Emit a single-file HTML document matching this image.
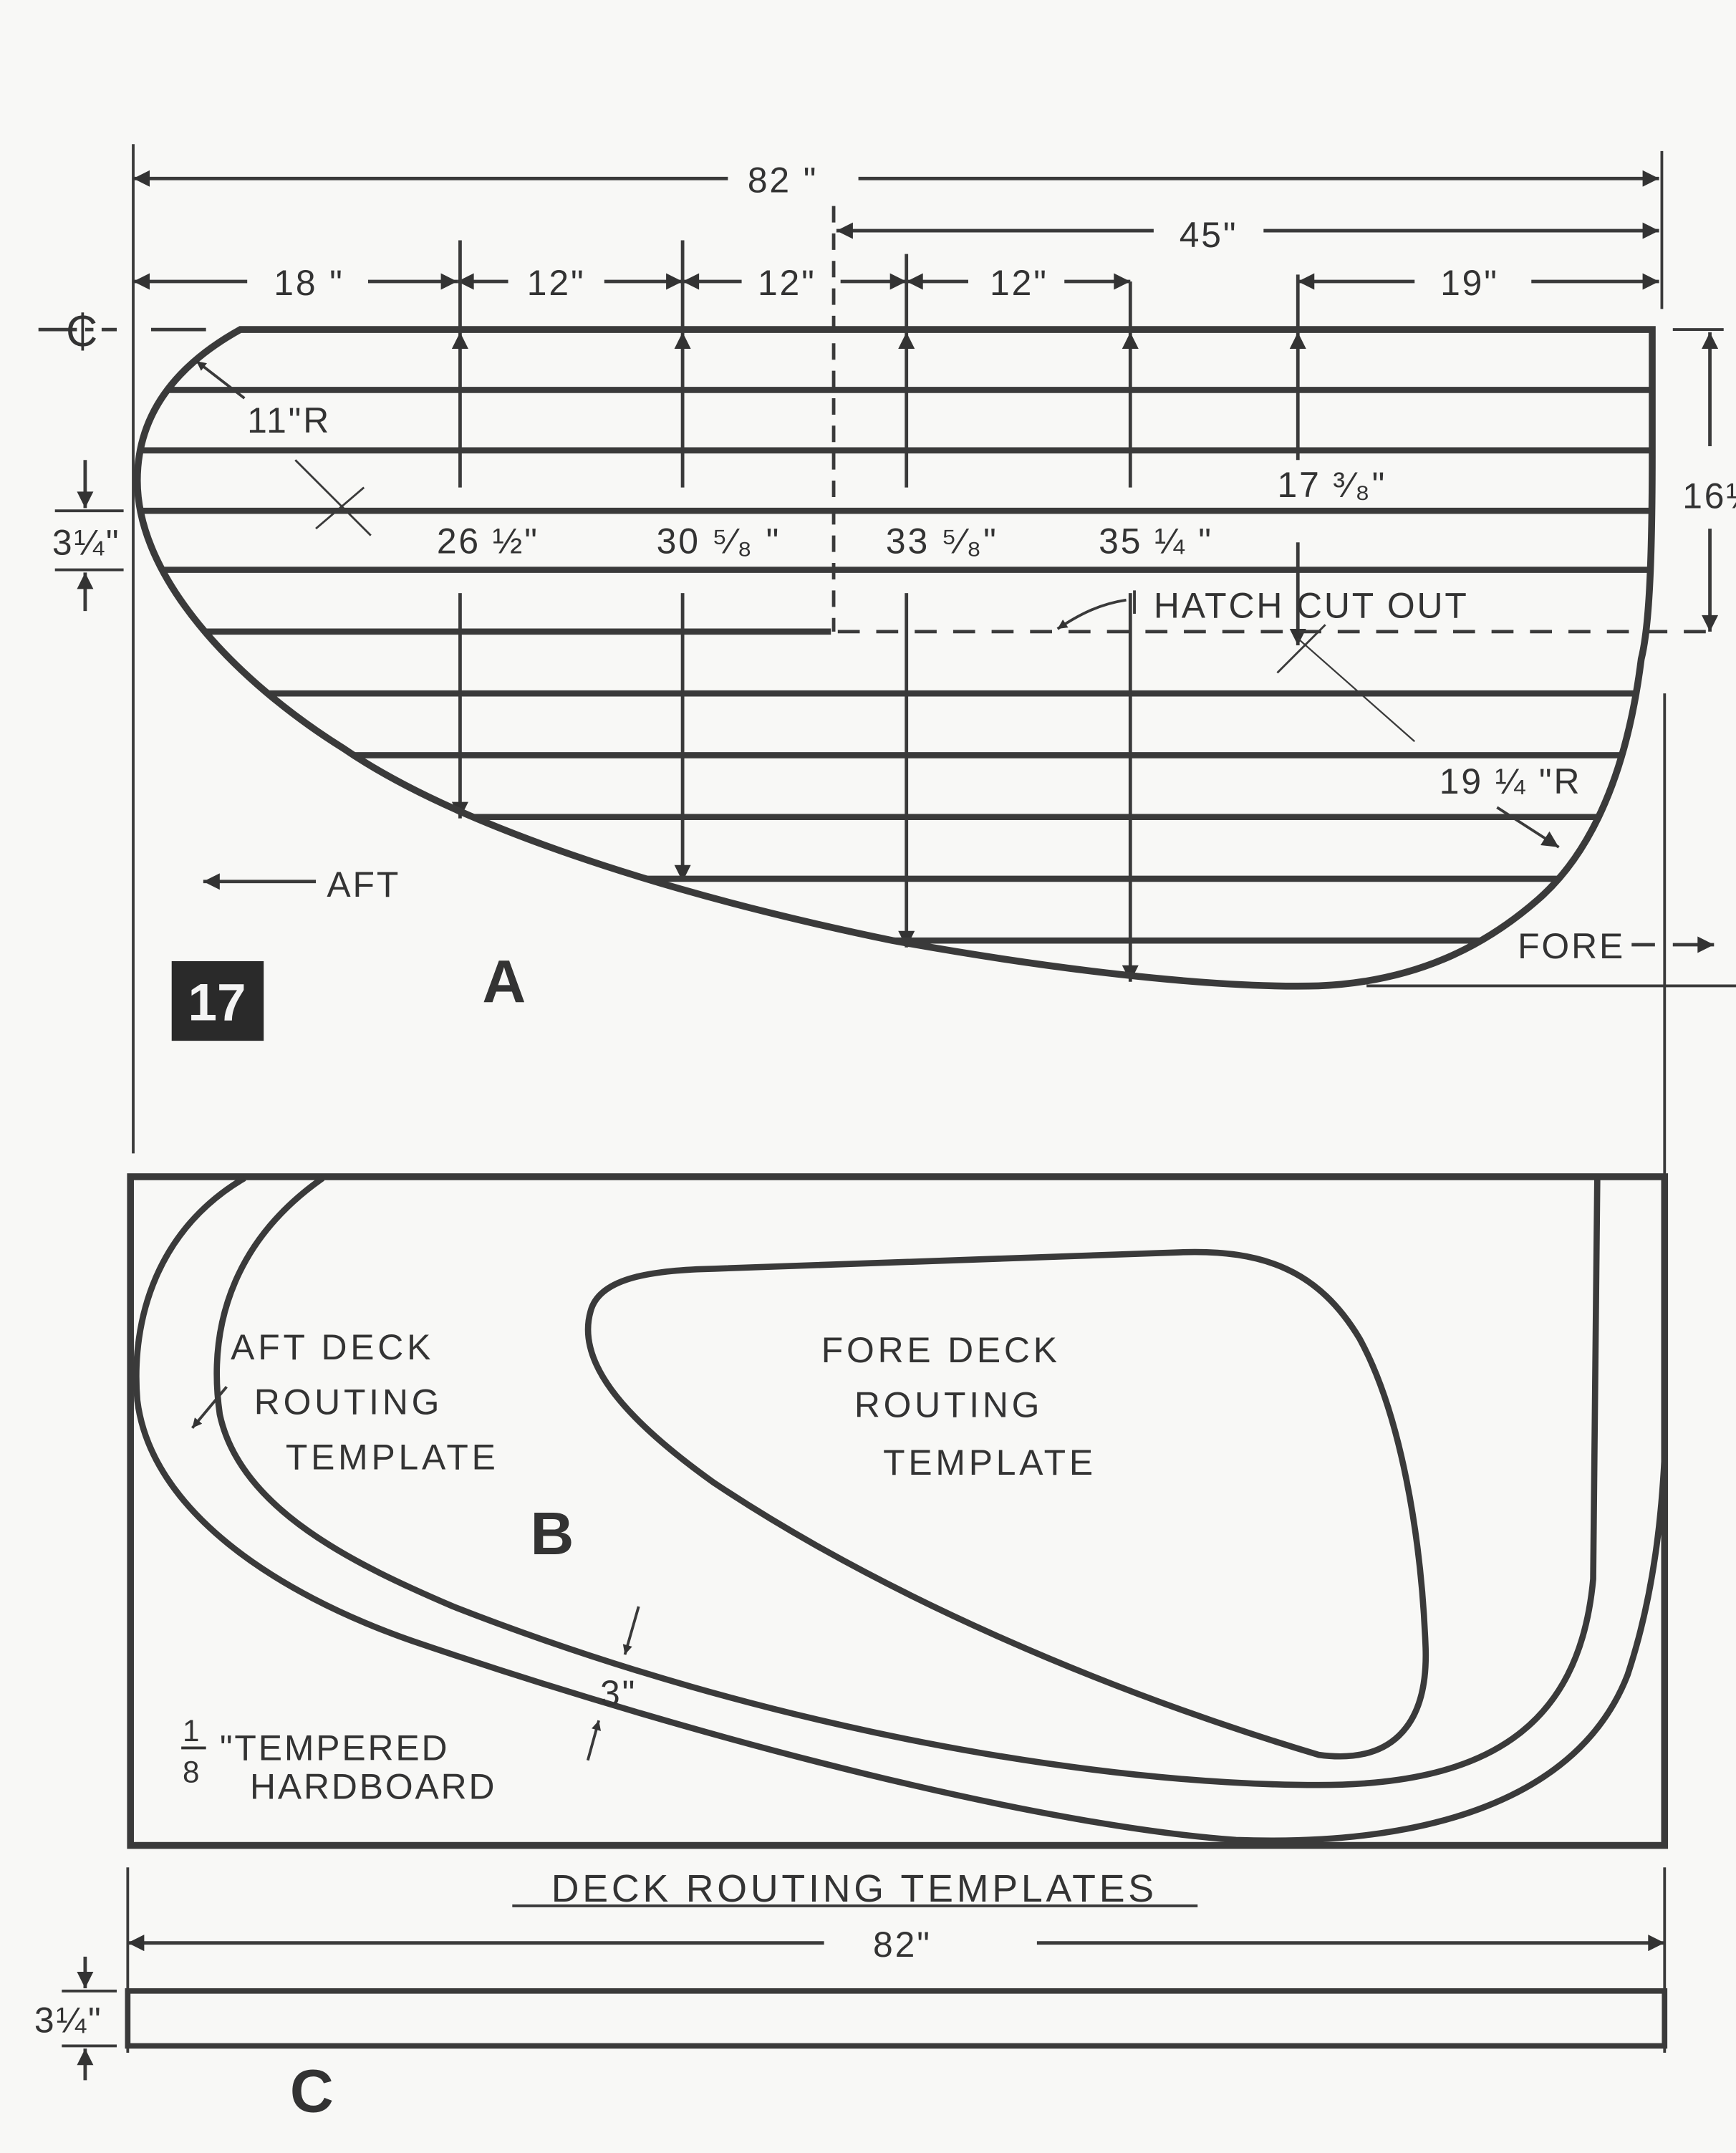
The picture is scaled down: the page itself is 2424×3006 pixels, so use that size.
<!DOCTYPE html>
<html><head><meta charset="utf-8"><style>
html,body{margin:0;padding:0;background:#f8f8f6;}
svg{display:block;}
text{font-family:"Liberation Sans",sans-serif;fill:#333;}
</style></head><body>
<svg width="2424" height="3006" viewBox="0 0 1264 1568" preserveAspectRatio="none" xmlns="http://www.w3.org/2000/svg">
<defs>
<clipPath id="hull"><path d="M175,240 L1203,240 L1203,330 C1203,420 1200,460 1195,480 C1185,560 1160,620 1120,655 C1080,690 1030,715 960,718 C880,720 760,705 650,685 C480,650 330,600 250,545 C170,495 100,420 100,350 C100,300 130,265 175,240 Z"/></clipPath>
<marker id="ar" viewBox="0 0 10 10" refX="10" refY="5" markerWidth="9" markerHeight="7" orient="auto-start-reverse" markerUnits="userSpaceOnUse"><path d="M0,0 L10,5 L0,10 Z" fill="#333"/></marker>
<marker id="arL" viewBox="0 0 10 10" refX="10" refY="5" markerWidth="22" markerHeight="12" orient="auto-start-reverse" markerUnits="userSpaceOnUse"><path d="M0,0 L10,5 L0,10 Z" fill="#333"/></marker>
</defs>
<g stroke="#3a3a3a" fill="none">
<line x1="97" y1="105" x2="97" y2="840" stroke-width="2"/>
<line x1="1210" y1="110" x2="1210" y2="225" stroke-width="2"/>
<line x1="1212" y1="505" x2="1212" y2="860" stroke-width="2"/>
<line x1="607" y1="150" x2="607" y2="460" stroke-width="2.5" stroke-dasharray="12,8"/>
<line x1="97" y1="130" x2="530" y2="130" stroke-width="2.5" marker-start="url(#arL)"/>
<line x1="625" y1="130" x2="1208" y2="130" stroke-width="2.5" marker-end="url(#arL)"/>
<line x1="609" y1="168" x2="840" y2="168" stroke-width="2.5" marker-start="url(#arL)"/>
<line x1="920" y1="168" x2="1208" y2="168" stroke-width="2.5" marker-end="url(#arL)"/>
<line x1="97" y1="205" x2="180" y2="205" stroke-width="2.5" marker-start="url(#arL)"/>
<line x1="268" y1="205" x2="333" y2="205" stroke-width="2.5" marker-end="url(#arL)"/>
<line x1="333" y1="205" x2="370" y2="205" stroke-width="2.5" marker-start="url(#arL)"/>
<line x1="440" y1="205" x2="497" y2="205" stroke-width="2.5" marker-end="url(#arL)"/>
<line x1="497" y1="205" x2="540" y2="205" stroke-width="2.5" marker-start="url(#arL)"/>
<line x1="612" y1="205" x2="660" y2="205" stroke-width="2.5" marker-end="url(#arL)"/>
<line x1="660" y1="205" x2="705" y2="205" stroke-width="2.5" marker-start="url(#arL)"/>
<line x1="775" y1="205" x2="823" y2="205" stroke-width="2.5" marker-end="url(#arL)"/>
<line x1="945" y1="205" x2="1030" y2="205" stroke-width="2.5" marker-start="url(#arL)"/>
<line x1="1115" y1="205" x2="1208" y2="205" stroke-width="2.5" marker-end="url(#arL)"/>
<g stroke-width="2.5">
<line x1="335" y1="175" x2="335" y2="240" /><line x1="335" y1="355" x2="335" y2="242" marker-end="url(#arL)"/><line x1="335" y1="432" x2="335" y2="596" marker-end="url(#arL)"/>
<line x1="497" y1="175" x2="497" y2="240" /><line x1="497" y1="355" x2="497" y2="242" marker-end="url(#arL)"/><line x1="497" y1="432" x2="497" y2="642" marker-end="url(#arL)"/>
<line x1="660" y1="185" x2="660" y2="240" /><line x1="660" y1="355" x2="660" y2="242" marker-end="url(#arL)"/><line x1="660" y1="432" x2="660" y2="690" marker-end="url(#arL)"/>
<line x1="823" y1="205" x2="823" y2="240" /><line x1="823" y1="355" x2="823" y2="242" marker-end="url(#arL)"/><line x1="823" y1="432" x2="823" y2="715" marker-end="url(#arL)"/>
<line x1="945" y1="200" x2="945" y2="240" /><line x1="945" y1="335" x2="945" y2="242" marker-end="url(#arL)"/><line x1="945" y1="395" x2="945" y2="470" marker-end="url(#arL)"/>
</g>
<line x1="28" y1="240" x2="85" y2="240" stroke-width="2.5" stroke-dasharray="28,6,6,6"/>
<line x1="110" y1="240" x2="150" y2="240" stroke-width="2.5"/>
<line x1="1218" y1="240" x2="1255" y2="240" stroke-width="2"/>
<line x1="1245" y1="325" x2="1245" y2="242" stroke-width="2.5" marker-end="url(#arL)"/>
<line x1="1245" y1="385" x2="1245" y2="460" stroke-width="2.5" marker-end="url(#arL)"/>
<line x1="40" y1="372" x2="90" y2="372" stroke-width="2"/>
<line x1="40" y1="415" x2="90" y2="415" stroke-width="2"/>
<line x1="62" y1="335" x2="62" y2="370" stroke-width="2.5" marker-end="url(#arL)"/>
<line x1="62" y1="445" x2="62" y2="417" stroke-width="2.5" marker-end="url(#arL)"/>
<g clip-path="url(#hull)" stroke-width="4.5">
<line x1="90" y1="284" x2="1210" y2="284"/><line x1="90" y1="328" x2="1210" y2="328"/>
<line x1="90" y1="372" x2="1210" y2="372"/><line x1="90" y1="415" x2="1210" y2="415"/>
<line x1="90" y1="460" x2="605" y2="460"/>
<line x1="90" y1="505" x2="1210" y2="505"/><line x1="90" y1="550" x2="1210" y2="550"/>
<line x1="90" y1="595" x2="1210" y2="595"/><line x1="90" y1="640" x2="1210" y2="640"/>
<line x1="90" y1="685" x2="1210" y2="685"/>
</g>
<line x1="610" y1="460" x2="1250" y2="460" stroke-width="2.5" stroke-dasharray="16,12"/>
<path d="M175,240 L1203,240 L1203,330 C1203,420 1200,460 1195,480 C1185,560 1160,620 1120,655 C1080,690 1030,715 960,718 C880,720 760,705 650,685 C480,650 330,600 250,545 C170,495 100,420 100,350 C100,300 130,265 175,240 Z" stroke-width="5"/>
<line x1="995" y1="718" x2="1264" y2="718" stroke-width="2"/>
<line x1="215" y1="335" x2="270" y2="390" stroke-width="1.5"/><line x1="230" y1="385" x2="265" y2="355" stroke-width="1.5"/>
<line x1="178" y1="290" x2="143" y2="263" stroke-width="2" marker-end="url(#ar)"/>
<line x1="930" y1="490" x2="965" y2="455" stroke-width="1.5"/><line x1="945" y1="465" x2="1030" y2="540" stroke-width="1.2"/>
<line x1="1090" y1="588" x2="1135" y2="617" stroke-width="2" marker-end="url(#arL)"/>
<path d="M820,437 C800,440 785,448 770,458" stroke-width="2" marker-end="url(#ar)"/>
<line x1="826" y1="430" x2="826" y2="447" stroke-width="2"/>
<line x1="230" y1="642" x2="148" y2="642" stroke-width="2.5" marker-end="url(#arL)"/>
<line x1="1188" y1="688" x2="1205" y2="688" stroke-width="2.5"/>
<line x1="1218" y1="688" x2="1248" y2="688" stroke-width="2.5" marker-end="url(#arL)"/>
<rect x="95" y="857" width="1117" height="487" stroke-width="5"/>
<path d="M178,858 C115,895 95,960 100,1020 C110,1100 200,1160 300,1195 C520,1270 760,1330 900,1340 C1040,1345 1150,1310 1185,1220 C1205,1160 1210,1100 1212,1060" stroke-width="4.5"/>
<path d="M235,858 C175,900 150,960 160,1030 C175,1100 260,1140 330,1170 C560,1260 800,1300 960,1300 C1080,1300 1150,1260 1160,1150 L1163,858" stroke-width="4.5"/>
<path d="M520,924 L860,912 C920,910 960,925 990,975 C1020,1030 1035,1120 1038,1200 C1040,1260 1010,1285 960,1278 C800,1230 640,1160 520,1080 C450,1030 420,990 430,955 C436,932 470,925 520,924 Z" stroke-width="4.5"/>
<line x1="165" y1="1010" x2="140" y2="1040" stroke-width="2" marker-end="url(#ar)"/>
<line x1="465" y1="1170" x2="455" y2="1205" stroke-width="2" marker-end="url(#ar)"/>
<line x1="428" y1="1282" x2="436" y2="1253" stroke-width="2" marker-end="url(#ar)"/>
<line x1="93" y1="1360" x2="93" y2="1495" stroke-width="2"/>
<line x1="1212" y1="1360" x2="1212" y2="1495" stroke-width="2"/>
<line x1="93" y1="1415" x2="600" y2="1415" stroke-width="2.5" marker-start="url(#arL)"/>
<line x1="755" y1="1415" x2="1212" y2="1415" stroke-width="2.5" marker-end="url(#arL)"/>
<line x1="373" y1="1388" x2="872" y2="1388" stroke-width="2"/>
<rect x="93" y="1450" width="1119" height="40" stroke-width="4"/>
<line x1="45" y1="1450" x2="85" y2="1450" stroke-width="2"/>
<line x1="45" y1="1490" x2="85" y2="1490" stroke-width="2"/>
<line x1="62" y1="1425" x2="62" y2="1448" stroke-width="2.5" marker-end="url(#arL)"/>
<line x1="62" y1="1515" x2="62" y2="1492" stroke-width="2.5" marker-end="url(#arL)"/>
</g>
<g font-size="26" letter-spacing="1.5">
<text x="570" y="140" text-anchor="middle">82 "</text>
<text x="880" y="180" text-anchor="middle">45"</text>
<text x="225" y="215" text-anchor="middle">18 "</text>
<text x="405" y="215" text-anchor="middle">12"</text>
<text x="573" y="215" text-anchor="middle">12"</text>
<text x="742" y="215" text-anchor="middle">12"</text>
<text x="1070" y="215" text-anchor="middle">19"</text>
<text x="48" y="252" font-size="32">₵</text>
<text x="180" y="315">11"R</text>
<text x="930" y="362">17 ³⁄₈"</text>
<text x="1225" y="370">16½</text>
<text x="38" y="404">3¼"</text>
<text x="318" y="403">26 ½"</text>
<text x="478" y="403">30 ⁵⁄₈ "</text>
<text x="645" y="403">33 ⁵⁄₈"</text>
<text x="800" y="403">35 ¼ "</text>
<text x="840" y="450">HATCH   CUT OUT</text>
<text x="1048" y="578">19 ¼ "R</text>
<text x="238" y="653">AFT</text>
<text x="1105" y="698">FORE</text>
<text x="168" y="990" letter-spacing="2.5">AFT  DECK</text>
<text x="185" y="1030" letter-spacing="2.5">ROUTING</text>
<text x="208" y="1070" letter-spacing="2.5">TEMPLATE</text>
<text x="598" y="992" letter-spacing="2.5">FORE  DECK</text>
<text x="622" y="1032" letter-spacing="2.5">ROUTING</text>
<text x="643" y="1074" letter-spacing="2.5">TEMPLATE</text>
<text x="437" y="1242">3"</text>
<text x="133" y="1268" font-size="22">1</text>
<line x1="132" y1="1273" x2="150" y2="1273" stroke="#333" stroke-width="2"/>
<text x="133" y="1298" font-size="22">8</text>
<text x="160" y="1282">"TEMPERED</text>
<text x="182" y="1310">HARDBOARD</text>
<text x="622" y="1385" text-anchor="middle" font-size="28" letter-spacing="2.5">DECK  ROUTING  TEMPLATES</text>
<text x="657" y="1425" text-anchor="middle">82"</text>
<text x="25" y="1480">3¼"</text>
</g>
<rect x="125" y="700" width="67" height="58" fill="#2a2a2a"/>
<text x="158" y="743" text-anchor="middle" font-size="38" font-weight="bold" style="fill:#f4f4f4">17</text>
<text x="367" y="730" text-anchor="middle" font-size="44" font-weight="bold">A</text>
<text x="402" y="1132" text-anchor="middle" font-size="44" font-weight="bold">B</text>
<text x="227" y="1538" text-anchor="middle" font-size="44" font-weight="bold">C</text>
</svg>
</body></html>
